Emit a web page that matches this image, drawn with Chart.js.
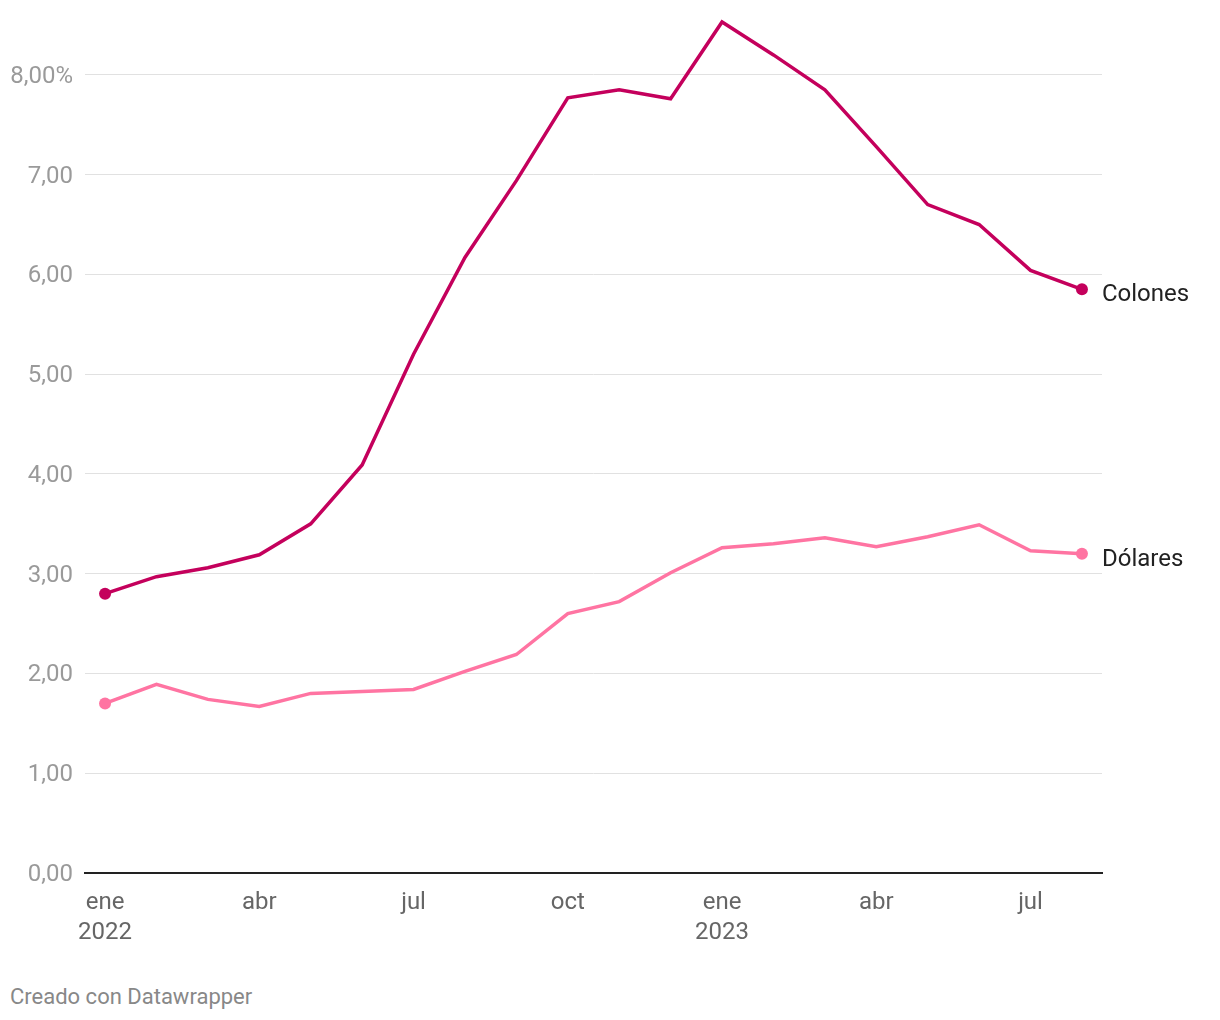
<!DOCTYPE html>
<html>
<head>
<meta charset="utf-8">
<script src="https://cdn.jsdelivr.net/npm/chart.js@4"></script>
<style>
  body { margin: 0; background: #fff; font-family: Roboto, sans-serif; }
  #wrap { position: relative; width: 1220px; height: 1020px; }
  #note { position: absolute; left: 10px; top: 984px; font-size: 22px; color: #888; }
</style>
</head>
<body>
<div id="wrap">
  <canvas id="chart" width="1220" height="970"></canvas>
  <div id="note">Creado con Datawrapper</div>
</div>
<script>
const months = ["2022-01","2022-02","2022-03","2022-04","2022-05","2022-06","2022-07","2022-08","2022-09","2022-10",
  "2022-11","2022-12","2023-01","2023-02","2023-03","2023-04","2023-05","2023-06","2023-07","2023-08"];
const colones = [2.80, 2.97, 3.06, 3.19, 3.50, 4.09, 5.20, 6.17, 6.94, 7.77,
  7.85, 7.76, 8.53, 8.20, 7.85, 7.28, 6.70, 6.50, 6.04, 5.85];
const dolares = [1.70, 1.89, 1.74, 1.67, 1.80, 1.82, 1.84, 2.02, 2.19, 2.60,
  2.72, 3.01, 3.26, 3.30, 3.36, 3.27, 3.37, 3.49, 3.23, 3.20];
const xTickPos = [0, 3, 6, 9, 12, 15, 18];
const xTickLabels = [["ene", "2022"], "abr", "jul", "oct", ["ene", "2023"], "abr", "jul"];
const yTicks = [0, 1, 2, 3, 4, 5, 6, 7, 8];

const COLONES = "#c4005c";
const DOLARES = "#ff74a2";

function series(label, values, color) {
  const last = values.length - 1;
  return {
    label,
    data: values.map((v, i) => ({ x: i, y: v })),
    borderColor: color,
    backgroundColor: color,
    borderWidth: 3.5,
    tension: 0,
    pointRadius: (c) => (c.dataIndex === 0 || c.dataIndex === last ? 6 : 0),
    pointHoverRadius: 0,
    pointBorderWidth: 0
  };
}

// name at the end of each line
const endLabels = {
  id: "endLabels",
  afterDatasetsDraw(chart) {
    const ctx = chart.ctx;
    ctx.save();
    ctx.font = "24px Roboto";
    ctx.fillStyle = "#222";
    ctx.textAlign = "left";
    ctx.textBaseline = "middle";
    chart.data.datasets.forEach((ds, i) => {
      const pts = chart.getDatasetMeta(i).data;
      const p = pts[pts.length - 1];
      ctx.fillText(ds.label, p.x + 20, p.y + 6);
    });
    ctx.restore();
  }
};

new Chart(document.getElementById("chart"), {
  type: "line",
  data: {
    datasets: [
      series("Colones", colones, COLONES),
      series("Dólares", dolares, DOLARES)
    ]
  },
  plugins: [endLabels],
  options: {
    responsive: false,
    animation: false,
    layout: { padding: { top: 15, right: 118, left: 0, bottom: 0 } },
    plugins: { legend: { display: false }, tooltip: { enabled: false } },
    scales: {
      x: {
        type: "linear",
        min: -0.39,
        max: 19.39,
        afterBuildTicks: (s) => { s.ticks = xTickPos.map((v) => ({ value: v })); },
        afterFit: (s) => { s.height = 97; s.paddingLeft = 0; s.paddingRight = 0; },
        grid: { display: false, drawTicks: false },
        border: { display: true, color: "#222", width: 2 },
        ticks: {
          autoSkip: false,
          maxRotation: 0,
          padding: 15,
          color: "#666",
          font: { family: "Roboto", size: 24, lineHeight: 1.25 },
          callback: (v) => xTickLabels[xTickPos.indexOf(v)]
        }
      },
      y: {
        min: 0,
        max: 8.6,
        afterBuildTicks: (s) => { s.ticks = yTicks.map((v) => ({ value: v })); },
        afterFit: (s) => { s.width = 85; s.paddingTop = 0; s.paddingBottom = 0; },
        border: { display: false },
        grid: {
          drawTicks: false,
          color: (c) => (c.tick && c.tick.value === 0 ? "rgba(0,0,0,0)" : "#e1e1e1"),
          lineWidth: 1
        },
        ticks: {
          padding: 12,
          labelOffset: 2,
          color: "#9a9a9a",
          font: { family: "Roboto", size: 24 },
          callback: (v) => v.toFixed(2).replace(".", ",") + (v === 8 ? "%" : "")
        }
      }
    }
  }
});
</script>
</body>
</html>
